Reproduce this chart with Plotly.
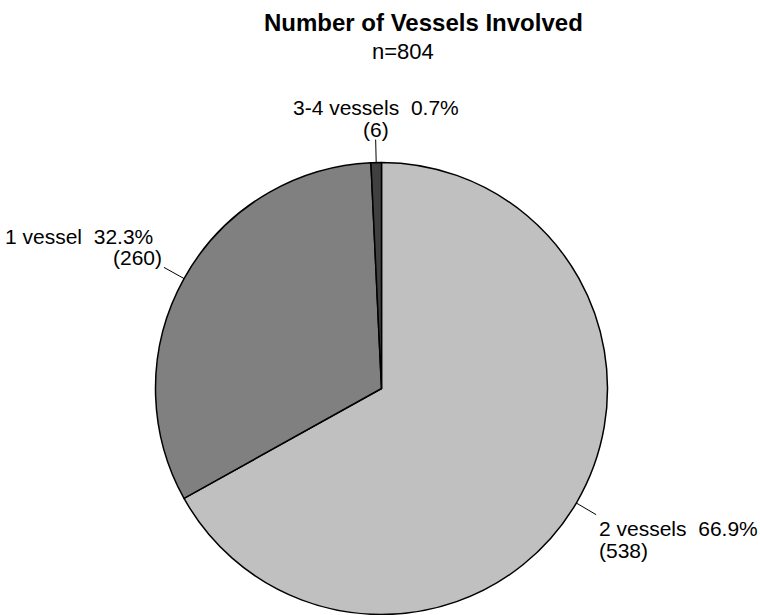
import math
import plotly.graph_objects as go

# Vessel-count breakdown
categories = ["2 vessels", "1 vessel", "3-4 vessels"]
counts = [538, 260, 6]
colors = ["#c0c0c0", "#808080", "#404040"]
title_text = "Number of Vessels Involved"
subtitle_text = "n=804"

W, H = 760, 615
cx, cy, r = 381.5, 388.5, 226.0   # pie centre / radius in pixels
leader = 23.0                      # leader line length in pixels
FONT = "Liberation Sans, Arial, sans-serif"
fs = 21

fig = go.Figure(go.Pie(
    labels=categories,
    values=counts,
    sort=False,
    direction="clockwise",
    rotation=0,
    marker=dict(colors=colors, line=dict(color="black", width=1.5)),
    textinfo="none",
    hoverinfo="label+value+percent",
    domain=dict(x=[(cx - r) / W, (cx + r) / W], y=[1 - (cy + r) / H, 1 - (cy - r) / H]),
    showlegend=False,
))

total = sum(counts)
shapes, annotations = [], []


def px2paper(x, y):
    return x / W, 1 - y / H


start = 0.0
for name, val in zip(categories, counts):
    frac = val / total
    mid = (start + frac / 2) * 2 * math.pi
    start += frac
    dx, dy = math.sin(mid), -math.cos(mid)
    x0, y0 = cx + r * dx, cy + r * dy
    x1, y1 = cx + (r + leader) * dx, cy + (r + leader) * dy
    a0, b0 = px2paper(x0, y0)
    a1, b1 = px2paper(x1, y1)
    shapes.append(dict(type="line", xref="paper", yref="paper", x0=a0, y0=b0, x1=a1, y1=b1,
                       line=dict(color="black", width=1)))
    line1 = f"{name}  {frac * 100:.1f}%"
    line2 = f"({val})"
    if abs(dx) < 0.2:          # label above the slice
        pos = [(x1, y1 - 19, line1), (x1, y1 + 3, line2)]
        anchors = [("center", "bottom"), ("center", "bottom")]
    elif dx < 0:               # label on the left
        pos = [(x1 - 9, y1 - 17, line1), (x1, y1 + 4, line2)]
        anchors = [("right", "bottom"), ("right", "bottom")]
    else:                      # label on the right
        pos = [(x1 + 1, y1, line1), (x1 + 1, y1 + 22, line2)]
        anchors = [("left", "top"), ("left", "top")]
    for (px, py, txt), (xa, ya) in zip(pos, anchors):
        ax, ay = px2paper(px, py)
        annotations.append(dict(x=ax, y=ay, xref="paper", yref="paper", text=txt,
                                showarrow=False, xanchor=xa, yanchor=ya,
                                font=dict(family=FONT, size=fs, color="black")))

tx, ty = px2paper(423, 7)
annotations.append(dict(x=tx, y=ty, xref="paper", yref="paper", text=f"<b>{title_text}</b>",
                        showarrow=False, xanchor="center", yanchor="top",
                        font=dict(family=FONT, size=24, color="black")))
sx, sy = px2paper(403, 37)
annotations.append(dict(x=sx, y=sy, xref="paper", yref="paper", text=subtitle_text,
                        showarrow=False, xanchor="center", yanchor="top",
                        font=dict(family=FONT, size=22, color="black")))

fig.update_layout(
    width=W, height=H,
    margin=dict(l=0, r=0, t=0, b=0),
    paper_bgcolor="white", plot_bgcolor="white",
    shapes=shapes, annotations=annotations,
)

fig.write_html("out.html")
